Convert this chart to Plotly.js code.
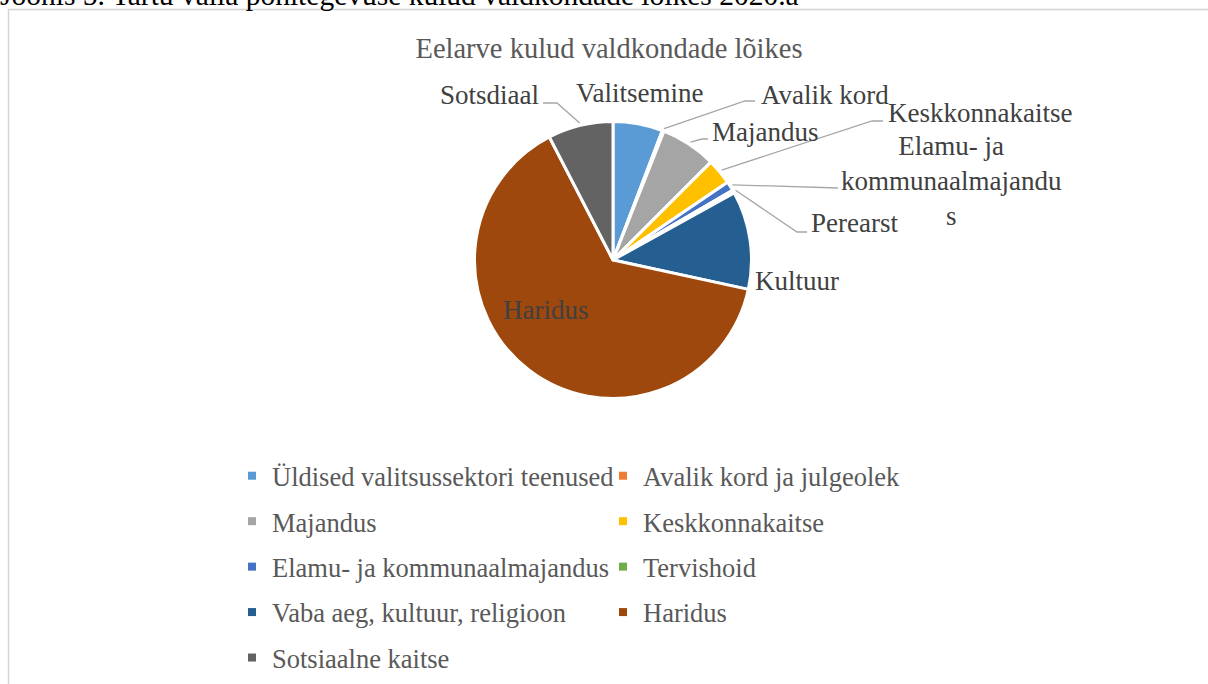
<!DOCTYPE html>
<html>
<head>
<meta charset="utf-8">
<script src="https://cdn.plot.ly/plotly-3.0.1.min.js"></script>
<style>html,body{margin:0;padding:0;background:#fff;}#chart{width:1208px;height:684px;}</style>
</head>
<body>
<div id="chart"></div>
<script>
// ---- data ----
const categories = ['Üldised valitsussektori teenused', 'Avalik kord ja julgeolek', 'Majandus', 'Keskkonnakaitse', 'Elamu- ja kommunaalmajandus', 'Tervishoid', 'Vaba aeg, kultuur, religioon', 'Haridus', 'Sotsiaalne kaitse'];
const shares = [5.8, 0.2, 6.5, 3.0, 1.1, 0.35, 11.45, 64.0, 7.6];
const dataLabels = ['Valitsemine', 'Avalik kord', 'Majandus', 'Keskkonnakaitse', 'Elamu- ja<br>kommunaalmajandu<br>s', 'Perearst', 'Kultuur', 'Haridus', 'Sotsdiaal'];
const colors = ['#5B9BD5', '#ED7D31', '#A5A5A5', '#FFC000', '#4472C4', '#70AD47', '#255E91', '#9E480E', '#636363'];
const legendColumn = [1, 2, 1, 2, 1, 2, 1, 2, 1];
const chartTitle = 'Eelarve kulud valdkondade lõikes';
const caption = 'Joonis 5. Tartu valla põhitegevuse kulud valdkondade lõikes 2020.a';

// ---- layout constants (pixels) ----
const W = 1208, H = 684;
const FONT = 'Liberation Serif, Times New Roman, serif';
const cx = 613, cy = 260, R = 138.5;
const px = x => x / W;
const py = y => 1 - y / H;

// label placement: [centerX, centerY, leader bend points...]
const labelPos = [
  {x: 639, y: 93, path: null},
  {x: 825, y: 95, path: [[745, 101], [755, 101]]},
  {x: 765, y: 132, path: [[702, 139], [708, 139]]},
  {x: 980, y: 113, path: [[872, 121], [883, 121]]},
  {x: 951, y: 181, path: [[838, 188]]},
  {x: 854, y: 223, path: [[797, 232], [807, 232]]},
  {x: 797, y: 281, path: null},
  {x: 545, y: 310, path: null},
  {x: 489, y: 95, path: [[557, 103], [543, 103]]}
];

const total = shares.reduce((a, b) => a + b, 0);
let cum = 0;
const shapes = [];
const annotations = [];
shares.forEach((v, i) => {
  const mid = (cum + v / 2) / total * 2 * Math.PI;
  cum += v;
  const ax = cx + (R + 2.5) * Math.sin(mid);
  const ay = cy - (R + 2.5) * Math.cos(mid);
  const lp = labelPos[i];
  if (lp.path) {
    let d = 'M' + px(ax) + ',' + py(ay);
    lp.path.forEach(p => { d += ' L' + px(p[0]) + ',' + py(p[1]); });
    shapes.push({type: 'path', xref: 'paper', yref: 'paper', path: d, line: {color: '#A6A6A6', width: 1.3}});
  }
  annotations.push({
    xref: 'paper', yref: 'paper', x: px(lp.x), y: py(lp.y), xanchor: 'center', yanchor: 'middle',
    text: dataLabels[i], showarrow: false, align: 'center',
    font: {family: FONT, size: 27, color: '#404040'}
  });
});

// caption (cut by top edge)
annotations.push({
  xref: 'paper', yref: 'paper', x: px(-2), y: py(13), xanchor: 'left', yanchor: 'bottom',
  text: caption, showarrow: false, font: {family: FONT, size: 29.5, color: '#000000'}
});

// chart frame
shapes.push({type: 'rect', xref: 'paper', yref: 'paper', x0: px(8.5), y0: py(9.5), x1: 1.2, y1: -0.2,
  line: {color: '#D4D4D4', width: 1.5}, fillcolor: 'rgba(0,0,0,0)', layer: 'below'});

const traces = [{
  type: 'pie',
  labels: categories,
  values: shares,
  sort: false,
  direction: 'clockwise',
  rotation: 0,
  textinfo: 'none',
  hoverinfo: 'label+percent',
  showlegend: false,
  marker: {colors: colors, line: {color: '#FFFFFF', width: 3}},
  domain: {x: [px(cx - R), px(cx + R)], y: [py(cy + R), py(cy - R)]}
}];

// legend entries (square markers) in two columns
categories.forEach((name, i) => {
  traces.push({
    type: 'scatter', mode: 'markers', x: [null], y: [null], name: name,
    legend: legendColumn[i] === 1 ? 'legend' : 'legend2',
    legendgroup: 'g' + i, showlegend: true, hoverinfo: 'skip',
    marker: {symbol: 'square', size: 8, color: colors[i]}
  });
});

const legendBase = {
  yanchor: 'top', xanchor: 'left', orientation: 'v', tracegroupgap: 8,
  bgcolor: 'rgba(0,0,0,0)', borderwidth: 0,
  font: {family: FONT, size: 26.5, color: '#595959'},
  itemclick: false, itemdoubleclick: false
};

const layout = {
  width: W, height: H,
  margin: {l: 0, r: 0, t: 0, b: 0},
  paper_bgcolor: '#FFFFFF', plot_bgcolor: 'rgba(0,0,0,0)',
  title: {text: chartTitle, x: px(609), xanchor: 'center', y: py(48), yanchor: 'middle',
    font: {family: FONT, size: 28.5, color: '#595959'}},
  xaxis: {visible: false}, yaxis: {visible: false},
  showlegend: true,
  legend: Object.assign({}, legendBase, {x: px(232), y: py(452)}),
  legend2: Object.assign({}, legendBase, {x: px(603), y: py(452)}),
  shapes: shapes,
  annotations: annotations
};

Plotly.newPlot('chart', traces, layout, {displayModeBar: false, staticPlot: true});
</script>
</body>
</html>
